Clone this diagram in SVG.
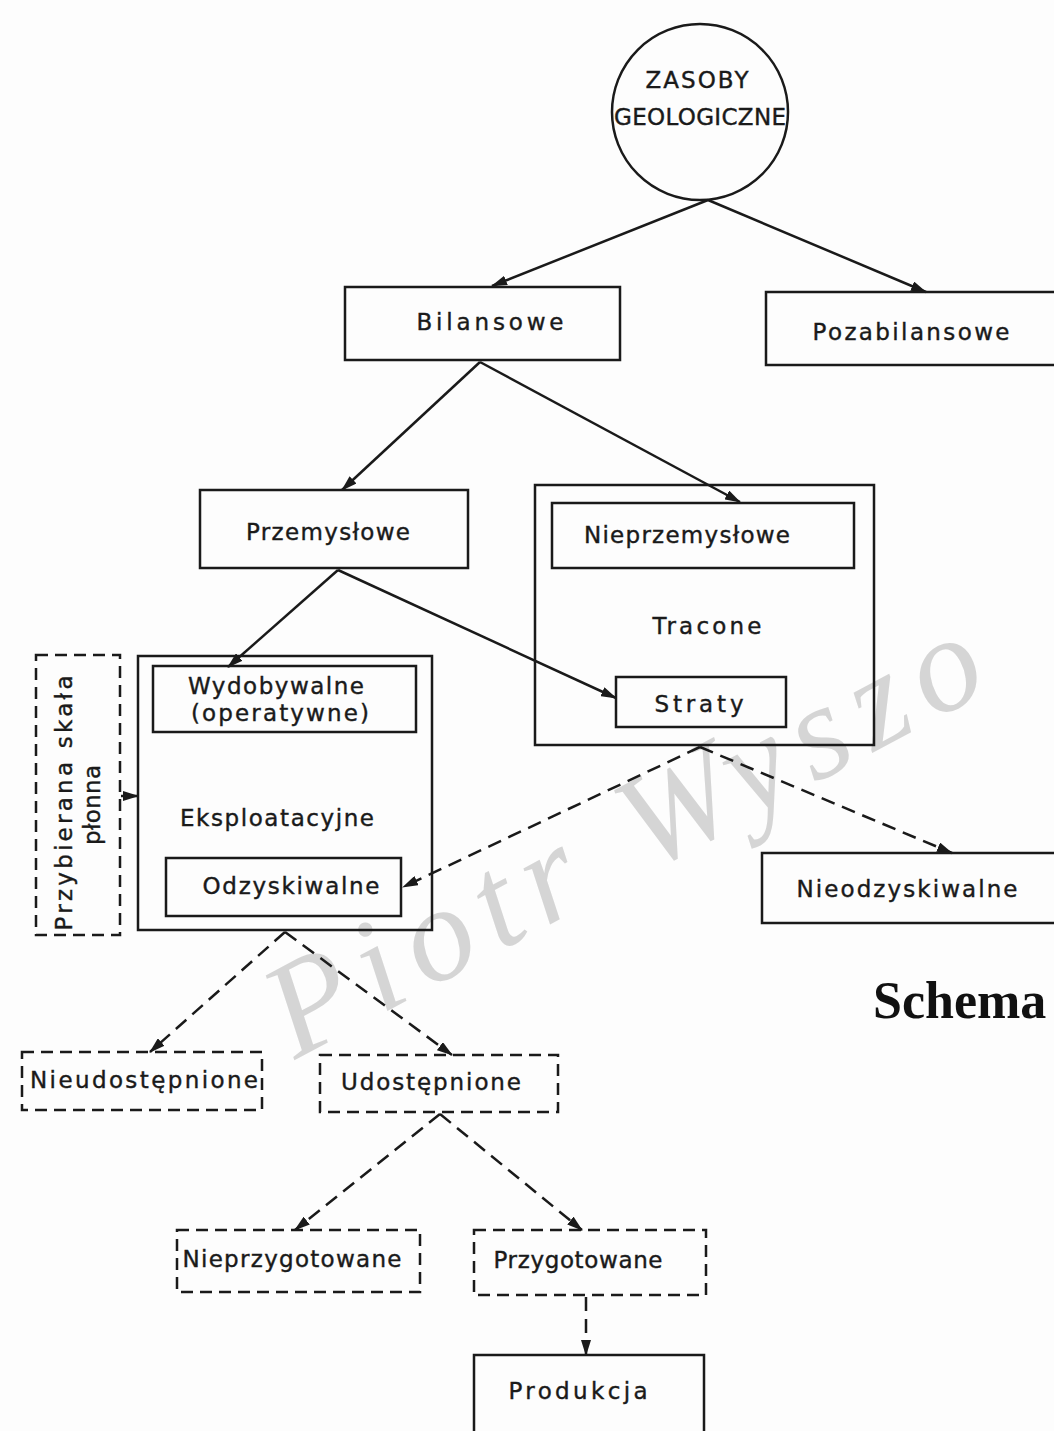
<svg xmlns="http://www.w3.org/2000/svg" width="1054" height="1431" viewBox="0 0 1054 1431">
<style>
.bg{fill:#fdfdfd}
.box{fill:none;stroke:#1a1a1a;stroke-width:2.5}
.dbox{fill:none;stroke:#1a1a1a;stroke-width:2.5;stroke-dasharray:12 7}
.t{font-family:"DejaVu Sans","Liberation Sans",sans-serif;font-size:23px;fill:#1a1a1a;stroke:#1a1a1a;stroke-width:0.4;text-anchor:middle}
.c{stroke:#1a1a1a;stroke-width:2.5;fill:none;marker-end:url(#ah)}
.dc{stroke:#1a1a1a;stroke-width:2.5;fill:none;stroke-dasharray:14 8;marker-end:url(#ah)}
.wm{font-family:"Liberation Serif",serif;font-style:italic;font-size:135px;fill:#cfcfcf;opacity:0.85}
.title{font-family:"Liberation Serif",serif;font-size:52px;font-weight:bold;fill:#111}
</style>
<defs>
<marker id="ah" markerUnits="userSpaceOnUse" markerWidth="16" markerHeight="10" refX="15" refY="5" orient="auto">
<path d="M0,0 L16,5 L0,10 Z" fill="#1a1a1a"/>
</marker>
</defs>
<rect class="bg" x="0" y="0" width="1054" height="1431"/>

<text class="wm" transform="translate(295,1060) rotate(-28)" textLength="790" lengthAdjust="spacing">Piotr Wyszo</text>

<g id="connectors">
<line class="c" x1="708" y1="200" x2="492" y2="286"/>
<line class="c" x1="708" y1="200" x2="926" y2="292"/>
<line class="c" x1="480" y1="362" x2="342" y2="490"/>
<line class="c" x1="480" y1="362" x2="740" y2="502"/>
<line class="c" x1="338" y1="570" x2="228" y2="667"/>
<line class="c" x1="338" y1="570" x2="616" y2="698"/>
<line class="dc" x1="700" y1="747" x2="403" y2="887"/>
<line class="dc" x1="700" y1="747" x2="952" y2="853"/>
<line class="c" x1="121" y1="796" x2="138" y2="796"/>
<line class="dc" x1="285" y1="932" x2="150" y2="1052"/>
<line class="dc" x1="285" y1="932" x2="452" y2="1055"/>
<line class="dc" x1="440" y1="1114" x2="295" y2="1230"/>
<line class="dc" x1="440" y1="1114" x2="582" y2="1230"/>
<line class="dc" x1="586" y1="1297" x2="586" y2="1355"/>
</g>

<g id="zasoby">
<circle class="box" cx="700" cy="112" r="88"/>
<text class="t" x="697" y="88" textLength="103" lengthAdjust="spacing">ZASOBY</text>
<text class="t" x="700" y="125" textLength="172" lengthAdjust="spacing">GEOLOGICZNE</text>
</g>

<g id="bilansowe">
<rect class="box" x="345" y="287" width="275" height="73"/>
<text class="t" x="490" y="330" textLength="147" lengthAdjust="spacing">Bilansowe</text>
</g>

<g id="pozabilansowe">
<rect class="box" x="766" y="292" width="300" height="73"/>
<text class="t" x="911" y="340" textLength="197" lengthAdjust="spacing">Pozabilansowe</text>
</g>

<g id="przemyslowe">
<rect class="box" x="200" y="490" width="268" height="78"/>
<text class="t" x="328" y="540" textLength="164" lengthAdjust="spacing">Przemysłowe</text>
</g>

<g id="tracone">
<rect class="box" x="535" y="485" width="339" height="260"/>
<text class="t" x="707" y="634" textLength="109" lengthAdjust="spacing">Tracone</text>
</g>

<g id="nieprzemyslowe">
<rect class="box" x="552" y="503" width="302" height="65"/>
<text class="t" x="687" y="543" textLength="206" lengthAdjust="spacing">Nieprzemysłowe</text>
</g>

<g id="straty">
<rect class="box" x="616" y="677" width="170" height="50"/>
<text class="t" x="699" y="712" textLength="89" lengthAdjust="spacing">Straty</text>
</g>

<g id="eksploatacyjne">
<rect class="box" x="138" y="656" width="294" height="274"/>
<text class="t" x="277" y="826" textLength="194" lengthAdjust="spacing">Eksploatacyjne</text>
</g>

<g id="wydobywalne">
<rect class="box" x="153" y="666" width="263" height="66"/>
<text class="t" x="276" y="694" textLength="176" lengthAdjust="spacing">Wydobywalne</text>
<text class="t" x="280" y="721" textLength="178" lengthAdjust="spacing">(operatywne)</text>
</g>

<g id="odzyskiwalne">
<rect class="box" x="166" y="858" width="235" height="58"/>
<text class="t" x="291" y="894" textLength="177" lengthAdjust="spacing">Odzyskiwalne</text>
</g>

<g id="przybierana">
<rect class="dbox" x="36" y="655" width="84" height="280"/>
<text class="t" transform="translate(72,803) rotate(-90)" textLength="255" lengthAdjust="spacing">Przybierana  skała</text>
<text class="t" transform="translate(100,805) rotate(-90)" textLength="80" lengthAdjust="spacing">płonna</text>
</g>

<g id="nieodzyskiwalne">
<rect class="box" x="762" y="853" width="300" height="70"/>
<text class="t" x="907" y="897" textLength="221" lengthAdjust="spacing">Nieodzyskiwalne</text>
</g>

<g id="schema">
<text class="title" x="873" y="1018">Schema</text>
</g>

<g id="nieudostepnione">
<rect class="dbox" x="22" y="1052" width="240" height="58"/>
<text class="t" x="144" y="1088" textLength="228" lengthAdjust="spacing">Nieudostępnione</text>
</g>

<g id="udostepnione">
<rect class="dbox" x="320" y="1055" width="238" height="57"/>
<text class="t" x="431" y="1090" textLength="180" lengthAdjust="spacing">Udostępnione</text>
</g>

<g id="nieprzygotowane">
<rect class="dbox" x="177" y="1230" width="243" height="62"/>
<text class="t" x="292" y="1267" textLength="219" lengthAdjust="spacing">Nieprzygotowane</text>
</g>

<g id="przygotowane">
<rect class="dbox" x="474" y="1230" width="232" height="65"/>
<text class="t" x="578" y="1268" textLength="169" lengthAdjust="spacing">Przygotowane</text>
</g>

<g id="produkcja">
<rect class="box" x="474" y="1355" width="230" height="90"/>
<text class="t" x="578" y="1399" textLength="139" lengthAdjust="spacing">Produkcja</text>
</g>
</svg>
